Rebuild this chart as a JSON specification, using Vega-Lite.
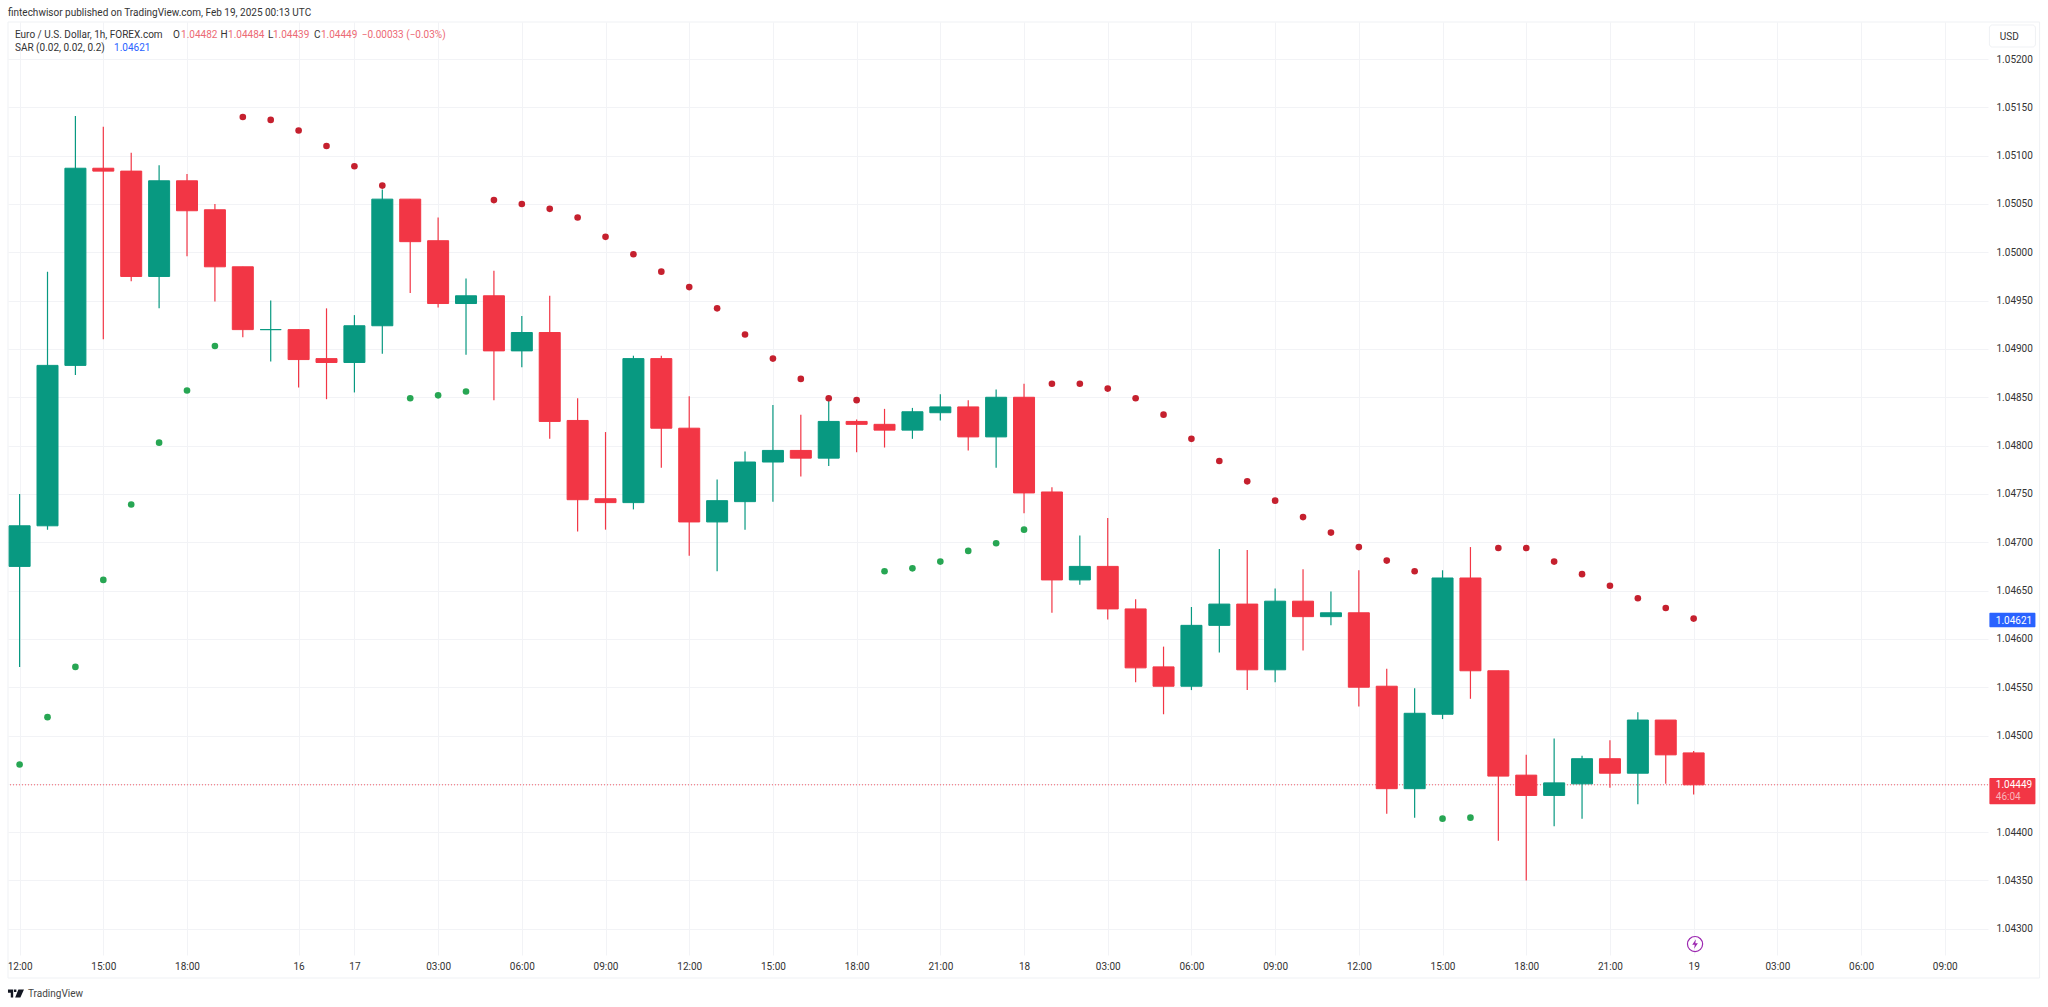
{
  "$schema": "https://vega.github.io/schema/vega-lite/v6.json",
  "description": "EUR/USD 1h candles with parabolic SAR",
  "autosize": "none",
  "padding": {"left": 8, "top": 22, "right": 60, "bottom": 52},
  "width": 1980,
  "height": 933,
  "background": "#ffffff",
  "title": {
    "text": "fintechwisor published on TradingView.com, Feb 19, 2025 00:13 UTC",
    "anchor": "start",
    "frame": "group",
    "font": "Roboto",
    "fontSize": 10,
    "fontWeight": "normal",
    "color": "#333333",
    "offset": 4
  },
  "config": {"view": {"stroke": null}, "scale": {"continuousPadding": 0}},
  "datasets": {
    "candles": [
      {"i":0,"open":1.04675,"high":1.0475,"low":1.04571,"close":1.04717,"tone":"up"},
      {"i":1,"open":1.04717,"high":1.0498,"low":1.04713,"close":1.04883,"tone":"up"},
      {"i":2,"open":1.04883,"high":1.05141,"low":1.04873,"close":1.05087,"tone":"up"},
      {"i":3,"open":1.05087,"high":1.0513,"low":1.0491,"close":1.05084,"tone":"down"},
      {"i":4,"open":1.05084,"high":1.05103,"low":1.0497,"close":1.04975,"tone":"down"},
      {"i":5,"open":1.04975,"high":1.0509,"low":1.04942,"close":1.05074,"tone":"up"},
      {"i":6,"open":1.05074,"high":1.05081,"low":1.04996,"close":1.05043,"tone":"down"},
      {"i":7,"open":1.05044,"high":1.0505,"low":1.04949,"close":1.04985,"tone":"down"},
      {"i":8,"open":1.04985,"high":1.04985,"low":1.04912,"close":1.0492,"tone":"down"},
      {"i":9,"open":1.0492,"high":1.0495,"low":1.04887,"close":1.0492,"tone":"up"},
      {"i":10,"open":1.0492,"high":1.0492,"low":1.0486,"close":1.04889,"tone":"down"},
      {"i":11,"open":1.0489,"high":1.04942,"low":1.04848,"close":1.04886,"tone":"down"},
      {"i":12,"open":1.04886,"high":1.04935,"low":1.04855,"close":1.04924,"tone":"up"},
      {"i":13,"open":1.04924,"high":1.05065,"low":1.04895,"close":1.05055,"tone":"up"},
      {"i":14,"open":1.05055,"high":1.05055,"low":1.04958,"close":1.05011,"tone":"down"},
      {"i":15,"open":1.05012,"high":1.05036,"low":1.04943,"close":1.04947,"tone":"down"},
      {"i":16,"open":1.04947,"high":1.04973,"low":1.04894,"close":1.04955,"tone":"up"},
      {"i":17,"open":1.04955,"high":1.04981,"low":1.04847,"close":1.04898,"tone":"down"},
      {"i":18,"open":1.04898,"high":1.04934,"low":1.04881,"close":1.04917,"tone":"up"},
      {"i":19,"open":1.04917,"high":1.04955,"low":1.04807,"close":1.04825,"tone":"down"},
      {"i":20,"open":1.04826,"high":1.04849,"low":1.04711,"close":1.04744,"tone":"down"},
      {"i":21,"open":1.04745,"high":1.04814,"low":1.04713,"close":1.04741,"tone":"down"},
      {"i":22,"open":1.04741,"high":1.04893,"low":1.04734,"close":1.0489,"tone":"up"},
      {"i":23,"open":1.0489,"high":1.04893,"low":1.04777,"close":1.04818,"tone":"down"},
      {"i":24,"open":1.04818,"high":1.04851,"low":1.04686,"close":1.04721,"tone":"down"},
      {"i":25,"open":1.04721,"high":1.04765,"low":1.0467,"close":1.04743,"tone":"up"},
      {"i":26,"open":1.04742,"high":1.04794,"low":1.04713,"close":1.04783,"tone":"up"},
      {"i":27,"open":1.04783,"high":1.04842,"low":1.04742,"close":1.04795,"tone":"up"},
      {"i":28,"open":1.04795,"high":1.04832,"low":1.04768,"close":1.04787,"tone":"down"},
      {"i":29,"open":1.04787,"high":1.04849,"low":1.04779,"close":1.04825,"tone":"up"},
      {"i":30,"open":1.04825,"high":1.04827,"low":1.04793,"close":1.04822,"tone":"down"},
      {"i":31,"open":1.04822,"high":1.04838,"low":1.04798,"close":1.04816,"tone":"down"},
      {"i":32,"open":1.04816,"high":1.04839,"low":1.04807,"close":1.04835,"tone":"up"},
      {"i":33,"open":1.04834,"high":1.04853,"low":1.04826,"close":1.0484,"tone":"up"},
      {"i":34,"open":1.0484,"high":1.04847,"low":1.04795,"close":1.04809,"tone":"down"},
      {"i":35,"open":1.04809,"high":1.04858,"low":1.04777,"close":1.0485,"tone":"up"},
      {"i":36,"open":1.0485,"high":1.04864,"low":1.0473,"close":1.04751,"tone":"down"},
      {"i":37,"open":1.04752,"high":1.04757,"low":1.04627,"close":1.04661,"tone":"down"},
      {"i":38,"open":1.04661,"high":1.04707,"low":1.04656,"close":1.04675,"tone":"up"},
      {"i":39,"open":1.04675,"high":1.04725,"low":1.0462,"close":1.04631,"tone":"down"},
      {"i":40,"open":1.04631,"high":1.04641,"low":1.04555,"close":1.0457,"tone":"down"},
      {"i":41,"open":1.04571,"high":1.04592,"low":1.04522,"close":1.04551,"tone":"down"},
      {"i":42,"open":1.04551,"high":1.04633,"low":1.04547,"close":1.04614,"tone":"up"},
      {"i":43,"open":1.04614,"high":1.04693,"low":1.04586,"close":1.04636,"tone":"up"},
      {"i":44,"open":1.04636,"high":1.04692,"low":1.04547,"close":1.04568,"tone":"down"},
      {"i":45,"open":1.04568,"high":1.04652,"low":1.04555,"close":1.04639,"tone":"up"},
      {"i":46,"open":1.04639,"high":1.04672,"low":1.04588,"close":1.04623,"tone":"down"},
      {"i":47,"open":1.04623,"high":1.04649,"low":1.04614,"close":1.04627,"tone":"up"},
      {"i":48,"open":1.04627,"high":1.04671,"low":1.0453,"close":1.0455,"tone":"down"},
      {"i":49,"open":1.04551,"high":1.04569,"low":1.04419,"close":1.04445,"tone":"down"},
      {"i":50,"open":1.04445,"high":1.04549,"low":1.04415,"close":1.04523,"tone":"up"},
      {"i":51,"open":1.04522,"high":1.04671,"low":1.04517,"close":1.04663,"tone":"up"},
      {"i":52,"open":1.04663,"high":1.04695,"low":1.04538,"close":1.04567,"tone":"down"},
      {"i":53,"open":1.04567,"high":1.04567,"low":1.04391,"close":1.04458,"tone":"down"},
      {"i":54,"open":1.04459,"high":1.0448,"low":1.0435,"close":1.04438,"tone":"down"},
      {"i":55,"open":1.04438,"high":1.04497,"low":1.04406,"close":1.04451,"tone":"up"},
      {"i":56,"open":1.0445,"high":1.04479,"low":1.04414,"close":1.04476,"tone":"up"},
      {"i":57,"open":1.04476,"high":1.04495,"low":1.04446,"close":1.04461,"tone":"down"},
      {"i":58,"open":1.04461,"high":1.04524,"low":1.04429,"close":1.04516,"tone":"up"},
      {"i":59,"open":1.04516,"high":1.04516,"low":1.0445,"close":1.0448,"tone":"down"},
      {"i":60,"open":1.04482,"high":1.04484,"low":1.04439,"close":1.04449,"tone":"down"}
    ],
    "sar": [
      {"i":0,"p":1.0447,"tone":"long"},{"i":1,"p":1.04519,"tone":"long"},{"i":2,"p":1.04571,"tone":"long"},
      {"i":3,"p":1.04661,"tone":"long"},{"i":4,"p":1.04739,"tone":"long"},{"i":5,"p":1.04803,"tone":"long"},
      {"i":6,"p":1.04857,"tone":"long"},{"i":7,"p":1.04903,"tone":"long"},
      {"i":8,"p":1.0514,"tone":"short"},{"i":9,"p":1.05137,"tone":"short"},{"i":10,"p":1.05126,"tone":"short"},
      {"i":11,"p":1.0511,"tone":"short"},{"i":12,"p":1.05089,"tone":"short"},{"i":13,"p":1.05069,"tone":"short"},
      {"i":14,"p":1.04849,"tone":"long"},{"i":15,"p":1.04852,"tone":"long"},{"i":16,"p":1.04856,"tone":"long"},
      {"i":17,"p":1.05054,"tone":"short"},{"i":18,"p":1.0505,"tone":"short"},{"i":19,"p":1.05045,"tone":"short"},
      {"i":20,"p":1.05036,"tone":"short"},{"i":21,"p":1.05016,"tone":"short"},{"i":22,"p":1.04998,"tone":"short"},
      {"i":23,"p":1.0498,"tone":"short"},{"i":24,"p":1.04964,"tone":"short"},{"i":25,"p":1.04942,"tone":"short"},
      {"i":26,"p":1.04915,"tone":"short"},{"i":27,"p":1.0489,"tone":"short"},{"i":28,"p":1.04869,"tone":"short"},
      {"i":29,"p":1.04849,"tone":"short"},{"i":30,"p":1.04847,"tone":"short"},
      {"i":31,"p":1.0467,"tone":"long"},{"i":32,"p":1.04673,"tone":"long"},{"i":33,"p":1.0468,"tone":"long"},
      {"i":34,"p":1.04691,"tone":"long"},{"i":35,"p":1.04699,"tone":"long"},{"i":36,"p":1.04713,"tone":"long"},
      {"i":37,"p":1.04864,"tone":"short"},{"i":38,"p":1.04864,"tone":"short"},{"i":39,"p":1.04859,"tone":"short"},
      {"i":40,"p":1.04849,"tone":"short"},{"i":41,"p":1.04832,"tone":"short"},{"i":42,"p":1.04807,"tone":"short"},
      {"i":43,"p":1.04784,"tone":"short"},{"i":44,"p":1.04763,"tone":"short"},{"i":45,"p":1.04743,"tone":"short"},
      {"i":46,"p":1.04726,"tone":"short"},{"i":47,"p":1.0471,"tone":"short"},{"i":48,"p":1.04695,"tone":"short"},
      {"i":49,"p":1.04681,"tone":"short"},{"i":50,"p":1.0467,"tone":"short"},
      {"i":51,"p":1.04414,"tone":"long"},{"i":52,"p":1.04415,"tone":"long"},
      {"i":53,"p":1.04694,"tone":"short"},{"i":54,"p":1.04694,"tone":"short"},{"i":55,"p":1.0468,"tone":"short"},
      {"i":56,"p":1.04667,"tone":"short"},{"i":57,"p":1.04655,"tone":"short"},{"i":58,"p":1.04642,"tone":"short"},
      {"i":59,"p":1.04632,"tone":"short"},{"i":60,"p":1.04621,"tone":"short"}
    ],
    "labels": [
      {"i":-0.165,"p":1.05225,"label":"Euro / U.S. Dollar, 1h, FOREX.com","tone":"ink"},
      {"i":5.498,"p":1.05225,"label":"O","tone":"ink"},
      {"i":5.785,"p":1.05225,"label":"1.04482","tone":"quote"},
      {"i":7.2,"p":1.05225,"label":"H","tone":"ink"},
      {"i":7.47,"p":1.05225,"label":"1.04484","tone":"quote"},
      {"i":8.9,"p":1.05225,"label":"L","tone":"ink"},
      {"i":9.08,"p":1.05225,"label":"1.04439","tone":"quote"},
      {"i":10.55,"p":1.05225,"label":"C","tone":"ink"},
      {"i":10.8,"p":1.05225,"label":"1.04449","tone":"quote"},
      {"i":12.26,"p":1.05225,"label":"−0.00033 (−0.03%)","tone":"quote"},
      {"i":-0.165,"p":1.05211,"label":"SAR (0.02, 0.02, 0.2)","tone":"ink"},
      {"i":3.384,"p":1.05211,"label":"1.04621","tone":"sarvalue"},
      {"i":70.97,"p":1.05223,"label":"USD","tone":"ink"},
      {"i":70.83,"p":1.04619,"label":"1.04621","tone":"tagtext"},
      {"i":70.83,"p":1.04449,"label":"1.04449","tone":"tagtext"},
      {"i":70.83,"p":1.04436,"label":"46:04","tone":"countdown"},
      {"i":0.3,"p":1.04233,"label":"TradingView","tone":"brand"}
    ],
    "tags": [
      {"i":70.6,"i2":72.25,"p":1.04627,"p2":1.04612,"tone":"sartag"},
      {"i":70.6,"i2":72.25,"p":1.04456,"p2":1.04429,"tone":"down"}
    ]
  },
  "layer": [
    {
      "data": {"values": [{"i": -0.416, "i2": 72.4, "p": 1.052383, "p2": 1.042491}]},
      "mark": {"type": "rect", "fill": null, "stroke": "#eff1f4", "strokeWidth": 1},
      "encoding": {
        "x": {
          "field": "i",
          "type": "quantitative",
          "title": null,
          "scale": {"domain": [-0.416, 70.55], "nice": false, "zero": false, "padding": 0},
          "axis": {
            "values": [0,3,6,10,12,15,18,21,24,27,30,33,36,39,42,45,48,51,54,57,60,63,66,69],
            "labelExpr": "{'0':'12:00','3':'15:00','6':'18:00','10':'16','12':'17','15':'03:00','18':'06:00','21':'09:00','24':'12:00','27':'15:00','30':'18:00','33':'21:00','36':'18','39':'03:00','42':'06:00','45':'09:00','48':'12:00','51':'15:00','54':'18:00','57':'21:00','60':'19','63':'03:00','66':'06:00','69':'09:00'}[datum.value]",
            "domain": false,
            "ticks": false,
            "grid": true,
            "gridColor": "#f2f3f6",
            "labelFont": "Roboto",
            "labelFontSize": 10,
            "labelColor": "#333333",
            "labelPadding": 6,
            "labelOverlap": false,
            "labelFlush": false
          }
        },
        "x2": {"field": "i2"},
        "y": {
          "field": "p",
          "type": "quantitative",
          "title": null,
          "scale": {"domain": [1.042729, 1.052383], "nice": false, "zero": false},
          "axis": {
            "orient": "right",
            "values": [1.043,1.0435,1.044,1.0445,1.045,1.0455,1.046,1.0465,1.047,1.0475,1.048,1.0485,1.049,1.0495,1.05,1.0505,1.051,1.0515,1.052],
            "labelExpr": "abs(datum.value - 1.0445) < 0.00001 ? '' : format(datum.value, '.5f')",
            "domain": false,
            "ticks": false,
            "grid": true,
            "gridColor": "#f2f3f6",
            "labelFont": "Roboto",
            "labelFontSize": 10,
            "labelColor": "#333333",
            "labelPadding": 8,
            "labelOverlap": false,
            "labelFlush": false
          }
        },
        "y2": {"field": "p2"}
      }
    },
    {
      "data": {"values": [{"p": 1.04449}]},
      "mark": {"type": "rule", "color": "#f23645", "strokeWidth": 1, "strokeDash": [1, 2], "opacity": 0.8},
      "encoding": {"y": {"field": "p", "type": "quantitative", "title": null}}
    },
    {
      "data": {"name": "candles"},
      "mark": {"type": "rule", "strokeWidth": 1.2},
      "encoding": {
        "x": {"field": "i", "type": "quantitative", "title": null},
        "y": {"field": "low", "type": "quantitative", "title": null},
        "y2": {"field": "high"},
        "color": {
          "field": "tone",
          "type": "nominal",
          "legend": null,
          "scale": {
            "domain": ["up","down","long","short","ink","quote","sarvalue","tagtext","countdown","sartag","brand"],
            "range": ["#089981","#f23645","#27a653","#c5202e","#333333","#ec6a75","#2962ff","#ffffff","#f9b4ba","#2962ff","#444444"]
          }
        }
      }
    },
    {
      "data": {"name": "candles"},
      "mark": {"type": "bar", "size": 21, "stroke": null},
      "encoding": {
        "x": {"field": "i", "type": "quantitative", "title": null},
        "y": {"field": "open", "type": "quantitative", "title": null},
        "y2": {"field": "close"},
        "color": {"field": "tone", "type": "nominal", "legend": null},
        "stroke": {"field": "tone", "type": "nominal", "legend": null, "scale": {"domain": ["up","down"], "range": ["#089981","#f23645"]}}
      }
    },
    {
      "data": {"name": "sar"},
      "mark": {"type": "point", "filled": true, "shape": "circle", "size": 44, "opacity": 1},
      "encoding": {
        "x": {"field": "i", "type": "quantitative", "title": null},
        "y": {"field": "p", "type": "quantitative", "title": null},
        "color": {"field": "tone", "type": "nominal", "legend": null}
      }
    },
    {
      "data": {"values": [{"i": 70.6, "i2": 72.25, "p": 1.052352, "p2": 1.052124}]},
      "mark": {"type": "rect", "fill": "#ffffff", "stroke": "#eff1f4", "cornerRadius": 3},
      "encoding": {
        "x": {"field": "i", "type": "quantitative", "title": null},
        "x2": {"field": "i2"},
        "y": {"field": "p", "type": "quantitative", "title": null},
        "y2": {"field": "p2"}
      }
    },
    {
      "data": {"name": "tags"},
      "mark": {"type": "rect", "cornerRadius": 1},
      "encoding": {
        "x": {"field": "i", "type": "quantitative", "title": null},
        "x2": {"field": "i2"},
        "y": {"field": "p", "type": "quantitative", "title": null},
        "y2": {"field": "p2"},
        "color": {"field": "tone", "type": "nominal", "legend": null}
      }
    },
    {
      "data": {"name": "labels"},
      "mark": {"type": "text", "align": "left", "baseline": "middle", "font": "Roboto", "fontSize": 10},
      "encoding": {
        "x": {"field": "i", "type": "quantitative", "title": null},
        "y": {"field": "p", "type": "quantitative", "title": null},
        "text": {"field": "label"},
        "color": {"field": "tone", "type": "nominal", "legend": null}
      }
    },
    {
      "data": {"values": [{"i": 60.05, "p": 1.042842}]},
      "mark": {"type": "point", "shape": "circle", "size": 230, "filled": false, "stroke": "#9c27b0", "strokeWidth": 1.2, "opacity": 1},
      "encoding": {
        "x": {"field": "i", "type": "quantitative", "title": null},
        "y": {"field": "p", "type": "quantitative", "title": null}
      }
    },
    {
      "data": {"values": [{"i": 60.05, "p": 1.042842}]},
      "mark": {"type": "point", "shape": "M0.2,-1 L-0.6,0.15 H-0.05 L-0.2,1 L0.6,-0.2 H0.05 Z", "size": 90, "filled": true, "color": "#9c27b0", "opacity": 1},
      "encoding": {
        "x": {"field": "i", "type": "quantitative", "title": null},
        "y": {"field": "p", "type": "quantitative", "title": null}
      }
    },
    {
      "data": {"values": [{"i": -0.13, "p": 1.04233}]},
      "mark": {"type": "point", "shape": "M-1,-0.5 H-0.35 V0.5 H-0.65 V-0.1 H-1 Z M-0.25,-0.5 H0.05 V-0.2 H-0.25 Z M0.3,-0.5 H1 L0.55,0.5 H-0.1 Z", "size": 256, "filled": true, "color": "#131722", "opacity": 1},
      "encoding": {
        "x": {"field": "i", "type": "quantitative", "title": null},
        "y": {"field": "p", "type": "quantitative", "title": null}
      }
    }
  ]
}
